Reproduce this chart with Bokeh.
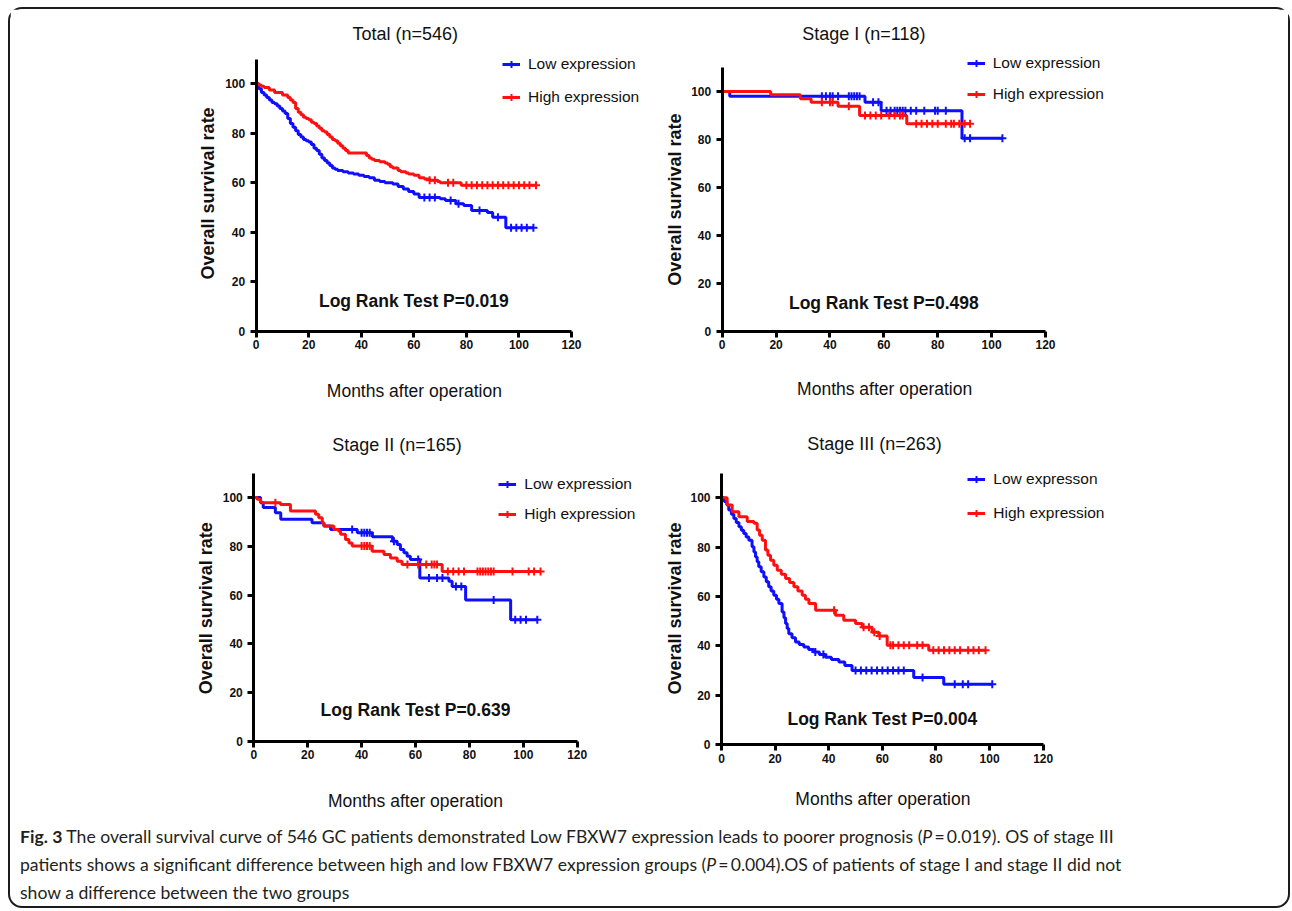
import numpy as np
from bokeh.plotting import figure
from bokeh.models import Range1d, FixedTicker, Legend, LegendItem, Label, Div
from bokeh.layouts import column, row
from bokeh.embed import file_html
from bokeh.resources import INLINE

# ---------------- data ----------------
x_ticks = [0, 20, 40, 60, 80, 100, 120]
y_ticks = [0, 20, 40, 60, 80, 100]

# Total (n=546)
total_low_t = [0, 1, 2, 3, 4, 5, 6, 7, 8, 9, 10, 11, 12, 13, 14, 15, 16, 17, 18, 19,
               20, 21, 22, 23, 24, 25, 26, 27, 28, 29, 30, 31, 33, 35, 37, 39, 41, 43, 45, 47,
               49, 52, 54, 56, 58, 60, 62, 70, 72, 76, 79, 82, 88, 90, 95, 105.5]
total_low_s = [100, 98, 96.5, 95.5, 94.5, 93.5, 92.5, 92, 91, 90, 89, 88, 86, 84, 82.5, 81, 79.5, 78.5, 77.5, 77,
               76.5, 75.5, 74, 73, 71.5, 70, 69, 68, 67, 66, 65.5, 65, 64.5, 64, 63.5, 63, 62.5, 62, 61, 60.5,
               60, 59.5, 58.5, 57.5, 56.5, 55.5, 54, 53.5, 52.8, 51.5, 50.8, 48.8, 48, 46.1, 41.8, 41.8]
total_low_c = [64, 66, 68, 74, 77, 85, 92, 97, 99, 101, 103, 105.5]
total_high_t = [0, 1, 2, 3, 5, 7, 10, 12, 13, 14, 15, 16, 17, 18, 19, 20, 21, 22, 23, 24,
                25, 26, 27, 28, 29, 30, 31, 32, 33, 34, 35, 42, 43, 44, 45, 47, 49, 50, 51, 52,
                54, 55, 57, 58, 60, 62, 64, 66, 69, 70, 78, 106.5]
total_high_s = [100, 99.5, 99, 98.5, 97.5, 96.5, 95.5, 94.5, 93.5, 92.5, 90, 88.5, 87.5, 86.5, 86, 85.5, 84.5, 84, 83, 82,
                81, 80.5, 79.5, 78.5, 77.5, 77, 76, 75, 74, 73, 72, 71, 70, 69.5, 69, 68.5, 68, 67.5, 66.5, 66,
                65, 64.5, 64, 63.5, 63, 62, 61.5, 61, 60.5, 60, 59, 59]
total_high_c = [66, 68, 73, 75, 80, 82, 84, 86, 88, 90, 92, 94, 96, 98, 100, 102, 104, 106.5]

# Stage I (n=118)
s1_low_t = [0, 2.8, 53, 59, 89, 104]
s1_low_s = [100, 98, 95.5, 92, 80.5, 80.5]
s1_low_c = [37, 38.5, 40, 41, 43, 47, 48, 49, 50, 51, 56, 58, 61, 62.5, 64, 65, 66, 67, 68, 70,
            72, 75, 79, 80, 83, 90, 92, 104]
s1_high_t = [0, 18, 29, 33, 43, 51, 68.5, 92]
s1_high_s = [100, 98.6, 97, 95.5, 93.8, 90, 86.5, 86.5]
s1_high_c = [37, 40, 41, 47, 53, 55, 57, 59, 62, 64, 66, 67, 72, 74, 76, 78, 80, 83, 85, 86, 88, 90, 92]

# Stage II (n=165)
s2_low_t = [0, 2.5, 3.5, 8, 10, 21.6, 26, 28.5, 38.4, 44, 51.5, 53.2, 54.4, 55.7, 56.9, 58.1,
            61.6, 72.4, 73.6, 78.6, 95.3, 105.2]
s2_low_s = [100, 97.9, 95.9, 93.8, 91.1, 89.7, 88.3, 86.9, 85.6, 83.9, 82.1, 80.7, 78.7, 77.3, 75.9, 74.6,
            67, 65.6, 63.5, 58, 49.8, 49.8]
s2_low_c = [36.5, 40, 41, 42, 43, 52, 61, 65, 68, 70, 75, 77, 89, 97, 99, 101, 105.2]
s2_high_t = [0, 1.2, 2.5, 3.1, 9.9, 13.6, 22.9, 24.1, 25.4, 26, 29.7, 31.5, 32.2, 34, 35.3, 36.5,
             43.9, 48.3, 50.7, 53.2, 55, 69.9, 106.4]
s2_high_s = [100, 99.3, 98.2, 97.9, 97.2, 94.5, 93.1, 91.7, 89.7, 88.3, 86.9, 86.2, 84.9, 82.8, 81.4, 80.1,
             78, 76.6, 75.2, 73.9, 72.5, 69.7, 69.7]
s2_high_c = [8, 40, 41, 42, 43, 57, 61, 64, 66, 67, 68, 72, 74, 76, 78, 83, 84, 85, 86, 87, 88, 89,
             96, 102, 104, 106.4]

# Stage III (n=263)
s3_low_t = [0, 1, 2, 2.7, 3.7, 4.6, 5.5, 6.5, 7.4, 8.3, 9.2, 10.2, 11.4, 12.1, 12.7, 13.3, 13.9, 14.8,
            15.8, 16.7, 17.6, 18.5, 19.5, 20.5, 21.4, 22.6, 23.3, 23.9, 24.5, 25.1, 26.3, 27.6, 29, 30.7,
            32.5, 34.4, 36.5, 38.8, 41, 43.8, 46, 48.7, 71.7, 82.9, 101]
s3_low_s = [100, 98.5, 97, 95, 93.3, 91.6, 89.9, 88.2, 86.8, 85.5, 84.1, 82.8, 80.1, 78, 76, 74, 72, 70,
            67.9, 65.9, 63.9, 62.2, 60.5, 58.8, 57.1, 53.7, 51.4, 49, 47, 44.9, 43.2, 41.5, 40.5, 39.5,
            38.5, 37.5, 36.5, 35.4, 34.4, 33.4, 32, 30, 27.1, 24.4, 24.4]
s3_low_c = [35, 38, 50, 52, 54, 56, 58, 60, 62, 64, 66, 68, 75, 87, 90, 92, 101]
s3_high_t = [0, 2.1, 4, 6.5, 9.6, 12.1, 13.3, 14.2, 15.2, 16.4, 17.3, 18.3, 19.5, 20.8, 22.3, 23.9,
             25.4, 27, 28.5, 30.1, 31.3, 32.6, 35.1, 42.5, 45.6, 50, 52.5, 56.2, 58.7, 61.8, 77.3, 98.5]
s3_high_s = [100, 97, 94.3, 92.3, 90.3, 89.6, 86.9, 84.8, 82.8, 78.8, 76.7, 74.7, 72.6, 70.6, 69, 67.3,
             65.6, 63.9, 62.2, 60.5, 58.8, 57.1, 54.4, 52.4, 50.3, 49, 47.5, 45.5, 44, 40.2, 38.2, 38.2]
s3_high_c = [42, 53, 55, 57, 59, 63, 64, 66, 68, 70, 73, 75, 79, 81, 83, 85, 87, 89, 92, 94, 96, 98.5]

titles = ["Total (n=546)", "Stage I (n=118)", "Stage II  (n=165)", "Stage III (n=263)"]
p_texts = ["Log Rank Test P=0.019", "Log Rank Test P=0.498", "Log Rank Test P=0.639", "Log Rank Test P=0.004"]
low_labels = ["Low expression", "Low expression", "Low expression", "Low expresson"]
high_label = "High expression"
x_label = "Months after operation"
y_label = "Overall survival rate"

# ---------------- styling ----------------
FONT = "Liberation Sans"
BLUE = "#0f0fff"
RED = "#ff1010"
X_MAX = 120   # extent of the drawn axes
Y_MAX = 110


def censor_y(t, s, c):
    t = np.asarray(t, float)
    s = np.asarray(s, float)
    idx = np.searchsorted(t, np.asarray(c, float), side="right") - 1
    return s[np.clip(idx, 0, len(s) - 1)]


def km_panel(title, lt, ls, lc, ht, hs, hc, ptext, pxy, low_label, g):
    # page geometry of the figure and of its plot frame
    fl = g["px"]
    fr = g["px"] + g["w"]
    ft = g["py"] + g["t"]
    fb = g["py"] + g["h"]
    kx = g["axw"] / X_MAX          # px per month
    ky = g["axh"] / Y_MAX          # px per percent
    x0, y0 = g["x0"], g["y0"]      # page position of the origin
    xr = Range1d((fl - x0) / kx, (fr - x0) / kx)
    yr = Range1d((y0 - fb) / ky, (y0 - ft) / ky)

    p = figure(width=g["w"], height=g["h"], x_range=xr, y_range=yr,
               output_backend="svg", toolbar_location=None,
               min_border_left=0, min_border_right=0, min_border_top=g["t"], min_border_bottom=0)
    p.outline_line_color = None
    p.grid.visible = False
    p.background_fill_color = "white"
    p.border_fill_color = "white"

    p.title.text = title
    p.title.align = "left"
    p.title.offset = g["tx"] - fl
    p.title.standoff = g["tst"]
    p.title.vertical_align = "bottom"
    p.title.text_font = FONT
    p.title.text_font_style = "normal"
    p.title.text_font_size = "18px"
    p.title.text_color = "#111111"

    low_line = p.step(lt, ls, mode="after", line_color=BLUE, line_width=3)
    high_line = p.step(ht, hs, mode="after", line_color=RED, line_width=3)
    low_c = p.scatter(lc, censor_y(lt, ls, lc), marker="cross", size=8, line_color=BLUE, line_width=2)
    high_c = p.scatter(hc, censor_y(ht, hs, hc), marker="cross", size=8, line_color=RED, line_width=2)

    legend = Legend(items=[LegendItem(label=low_label, renderers=[low_line, low_c]),
                           LegendItem(label=high_label, renderers=[high_line, high_c])],
                    location=(g["lx"] - fl, fb - g["lb"]), orientation="vertical",
                    border_line_color=None, background_fill_alpha=0,
                    padding=0, margin=0, spacing=g["lsp"],
                    glyph_width=18, glyph_height=20, label_height=20, label_standoff=8,
                    label_text_font=FONT, label_text_font_size="15.5px",
                    label_text_color="#111111")
    p.add_layout(legend)

    p.add_layout(Label(x=pxy[0], y=pxy[1], text=ptext, text_align="center", text_baseline="middle",
                       text_font=FONT, text_font_style="bold", text_font_size="17.5px",
                       text_color="#111111"))
    # axis titles
    p.add_layout(Label(x=g["xl"][0], y=g["xl"][1], text=x_label, text_align="center",
                       text_baseline="middle", text_font=FONT, text_font_size="17.5px",
                       text_color="#111111"))
    p.add_layout(Label(x=g["yl"][0], y=g["yl"][1], text=y_label, text_align="center",
                       text_baseline="middle", angle=np.pi / 2, text_font=FONT,
                       text_font_style="bold", text_font_size="18px", text_color="#111111"))

    p.xaxis.ticker = FixedTicker(ticks=x_ticks)
    p.yaxis.ticker = FixedTicker(ticks=y_ticks)
    p.xaxis.bounds = (0, X_MAX)
    p.yaxis.bounds = (0, Y_MAX)
    p.xaxis.fixed_location = 0
    p.yaxis.fixed_location = 0
    for ax in (p.xaxis[0], p.yaxis[0]):
        ax.axis_line_width = 3
        ax.axis_line_color = "black"
        ax.major_tick_line_width = 3
        ax.major_tick_line_color = "black"
        ax.major_tick_out = 6
        ax.major_tick_in = 0
        ax.minor_tick_line_color = None
        ax.major_label_text_font = FONT
        ax.major_label_text_font_style = "bold"
        ax.major_label_text_font_size = "12px"
        ax.major_label_text_color = "#111111"
    p.xaxis.major_label_standoff = 3
    p.yaxis.major_label_standoff = 5
    return p


# page geometry: figure position/size, title area, origin and axis lengths,
# title left edge/standoff, legend left/bottom, axis-title positions (data units)
geoms = [
    dict(px=10, py=9, w=640, h=408, t=38, x0=255.7, y0=330.7, axw=315.3, axh=272.1,
         tx=352, tst=7, lx=502, lb=107, lsp=13, xl=(60.2, -24.0), yl=(-18.5, 55.7)),
    dict(px=650, py=9, w=638, h=408, t=38, x0=721.7, y0=330.7, axw=323.3, axh=263.7,
         tx=801.7, tst=8, lx=966.7, lb=103.7, lsp=11, xl=(60.3, -24.0), yl=(-17.7, 54.9)),
    dict(px=10, py=417, w=640, h=400, t=45, x0=253.3, y0=740.7, axw=323.4, axh=268.0,
         tx=331.7, tst=15, lx=498.3, lb=524, lsp=10, xl=(60.0, -24.5), yl=(-17.9, 54.6)),
    dict(px=650, py=417, w=638, h=400, t=45, x0=721.0, y0=744.0, axw=321.7, axh=271.5,
         tx=806.7, tst=17, lx=967.3, lb=523, lsp=14, xl=(60.2, -22.0), yl=(-17.5, 55.1)),
]

p1 = km_panel(titles[0], total_low_t, total_low_s, total_low_c, total_high_t, total_high_s, total_high_c,
              p_texts[0], (60, 12.4), low_labels[0], geoms[0])
p2 = km_panel(titles[1], s1_low_t, s1_low_s, s1_low_c, s1_high_t, s1_high_s, s1_high_c,
              p_texts[1], (60, 11.7), low_labels[1], geoms[1])
p3 = km_panel(titles[2], s2_low_t, s2_low_s, s2_low_c, s2_high_t, s2_high_s, s2_high_c,
              p_texts[2], (60, 13), low_labels[2], geoms[2])
p4 = km_panel(titles[3], s3_low_t, s3_low_s, s3_low_c, s3_high_t, s3_high_s, s3_high_c,
              p_texts[3], (60, 10.4), low_labels[3], geoms[3])

caption_html = ("<b>Fig. 3</b> The overall survival curve of 546 GC patients demonstrated Low FBXW7 expression "
                "leads to poorer prognosis (<i>P</i>&#8201;=&#8201;0.019). OS of stage III<br>"
                "patients shows a significant difference between high and low FBXW7 expression groups "
                "(<i>P</i>&#8201;=&#8201;0.004).OS of patients of stage I and stage II did not<br>"
                "show a difference between the two groups")
caption = Div(text=caption_html, width=1278, height=89, margin=0,
              styles={"font-family": "Lato", "font-size": "17.6px", "line-height": "28px",
                      "color": "#231f20", "padding-left": "10px", "padding-top": "6px",
                      "white-space": "nowrap", "box-sizing": "border-box"})

layout = column(row(p1, p2), row(p3, p4), caption,
                styles={"border": "2px solid #1c1c1c", "border-radius": "14px",
                        "margin-left": "8px", "margin-top": "7px"})

open("out.html", "w").write(file_html(layout, INLINE))
